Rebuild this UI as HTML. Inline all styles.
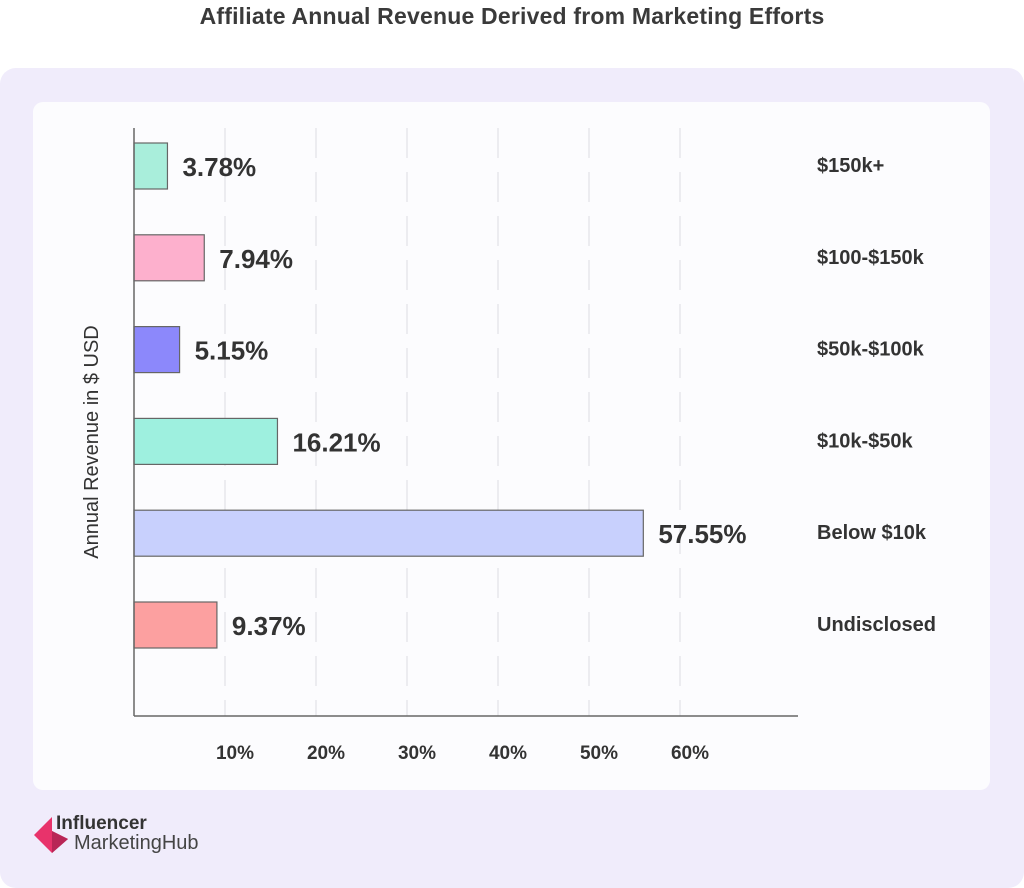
<!DOCTYPE html>
<html><head><meta charset="utf-8"><style>
body{margin:0;width:1024px;height:876px;background:#fff;font-family:"Liberation Sans",sans-serif;overflow:hidden;position:relative}
#title{position:absolute;top:3px;left:0;width:1024px;text-align:center;font-size:23px;font-weight:bold;color:#3a3a3a;letter-spacing:0.2px}
#outer{position:absolute;left:0;top:68px;width:1024px;height:820px;background:#f0ecfb;border-radius:16px}
#card{position:absolute;left:33px;top:102px;width:957px;height:688px;background:#fcfcfe;border-radius:10px}
svg{position:absolute;left:0;top:0}
</style></head><body>
<div id="title">Affiliate Annual Revenue Derived from Marketing Efforts</div>
<div id="outer"></div>
<div id="card"></div>
<svg id="chart" width="1024" height="876"></svg>
<div style="position:absolute;left:34px;top:817px;">
<svg width="40" height="38" style="position:relative"><polygon points="18,0 18,14 34,22 18,36 0,18" fill="#e8336b"/><polygon points="18,14 34,22 18,36" fill="#b82656"/></svg>
<div style="position:absolute;left:22px;top:-4px;font-size:19px;font-weight:bold;color:#333;">Influencer</div>
<div style="position:absolute;left:40px;top:15px;font-size:20px;color:#444;white-space:nowrap">MarketingHub</div>
</div>
<script>
const categories=["$150k+","$100-$150k","$50k-$100k","$10k-$50k","Below $10k","Undisclosed"];
const values=[3.78,7.94,5.15,16.21,57.55,9.37];
const colors=["#a9eedb","#fdb0cd","#8c88fb","#9ef0df","#c8d0fd","#fca0a0"];
const ticks=[10,20,30,40,50,60];
const NS="http://www.w3.org/2000/svg";
const svg=document.getElementById('chart');
const x0=134,yEnd=716,band=91.8;
const xs=v=>x0+v*8.85;
const gx=v=>x0+v*9.1;
const yc=i=>166+i*band;
function mk(t,a){const e=document.createElementNS(NS,t);for(const k in a)e.setAttribute(k,a[k]);svg.appendChild(e);return e;}
ticks.forEach(t=>{
 const g=mk('line',{x1:gx(t),x2:gx(t),y1:128,y2:yEnd,stroke:'#e2e2e6','stroke-width':1.2,'stroke-dasharray':'30 14'});
 
 const l=mk('text',{x:gx(t)+10,y:759,'text-anchor':'middle','font-size':19,fill:'#333','font-weight':'bold'});
 l.textContent=t+'%';
 
});
values.forEach((v,i)=>{
 const r=mk('rect',{x:x0,y:yc(i)-23,width:xs(v)-x0,height:46,fill:colors[i],stroke:'#666','stroke-width':1.2});
 
 const t=mk('text',{x:xs(v)+15,y:yc(i)+10,'font-size':26,'font-weight':'bold',fill:'#333'});
 t.textContent=v.toFixed(2)+'%';
 
 const c=mk('text',{x:817,y:yc(i)+6,'font-size':20,'font-weight':'bold',fill:'#333'});
 c.textContent=categories[i];
 
});
const ax=mk('line',{x1:x0,x2:x0,y1:128,y2:yEnd,stroke:'#666','stroke-width':1.5});

const bx=mk('line',{x1:x0,x2:798,y1:yEnd,y2:yEnd,stroke:'#666','stroke-width':1.5});

const yt=mk('text',{x:0,y:0,transform:'translate(98,442) rotate(-90)','text-anchor':'middle','font-size':20,fill:'#333'});
yt.textContent='Annual Revenue in $ USD';

</script>
</body></html>
